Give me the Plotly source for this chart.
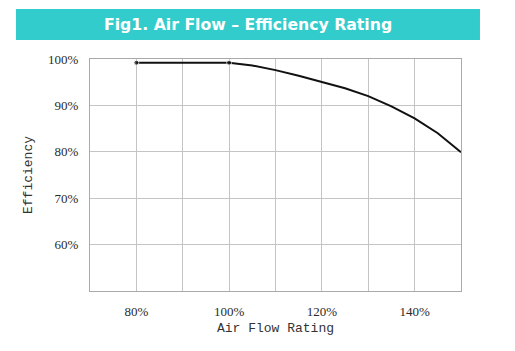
import plotly.graph_objects as go

airflow = [80, 90, 100, 105, 110, 115, 120, 125, 130, 135, 140, 145, 150]
efficiency = [99.2, 99.2, 99.2, 98.6, 97.6, 96.4, 95.1, 93.7, 92.0, 89.8, 87.2, 84.0, 79.9]
marker_sizes = [5, 0, 5, 0, 0, 0, 0, 0, 0, 0, 0, 0, 0]
x_ticks = [80, 100, 120, 140]
x_tick_labels = ["80%", "100%", "120%", "140%"]
y_ticks = [60, 70, 80, 90, 100]
y_tick_labels = ["60%", "70%", "80%", "90%", "100%"]
title_text = "Fig1. Air Flow \u2013 Efficiency Rating"

fig = go.Figure()
fig.add_trace(go.Scatter(
    x=airflow, y=efficiency, mode="lines+markers",
    line=dict(color="#111111", width=2, shape="linear"),
    marker=dict(color="#111111", size=marker_sizes),
    hoverinfo="skip", showlegend=False,
))

grid = "#c4c4c4"
fig.update_layout(
    width=515, height=351,
    margin=dict(l=90, r=54, t=59, b=60),
    paper_bgcolor="white", plot_bgcolor="white",
    font=dict(family="Liberation Serif", size=13, color="#2a2a2a"),
    xaxis=dict(
        range=[70, 150], tickvals=x_ticks, ticktext=x_tick_labels,
        showgrid=True, gridcolor=grid, gridwidth=1,
        minor=dict(dtick=10, tick0=70, showgrid=True, gridcolor=grid, gridwidth=1),
        showline=True, linecolor="#aaaaaa", linewidth=1, mirror=True,
        zeroline=False, ticks="", ticklabelstandoff=8,
        title=dict(text="Air Flow Rating", font=dict(family="Liberation Mono", size=13, color="#333333"), standoff=5),
    ),
    yaxis=dict(
        range=[50, 100], tickvals=y_ticks, ticktext=y_tick_labels,
        showgrid=True, gridcolor=grid, gridwidth=1,
        showline=True, linecolor="#aaaaaa", linewidth=1, mirror=True,
        zeroline=False, ticks="", ticklabelstandoff=8,
        title=dict(text="Efficiency", font=dict(family="Liberation Mono", size=13, color="#333333"), standoff=12),
    ),
    shapes=[dict(
        type="rect", xref="paper", yref="paper",
        x0=-0.1995, x1=1.0512, y0=1.0819, y1=1.2155,
        fillcolor="#33cccc", line=dict(width=0), layer="below",
    )],
    annotations=[dict(
        text="<b>" + title_text + "</b>", xref="paper", yref="paper",
        x=(248 - 90) / 371, y=1.1487, xanchor="center", yanchor="middle",
        showarrow=False, font=dict(family="DejaVu Sans", size=15.7, color="white"),
    )],
)

fig.write_html("out.html")
